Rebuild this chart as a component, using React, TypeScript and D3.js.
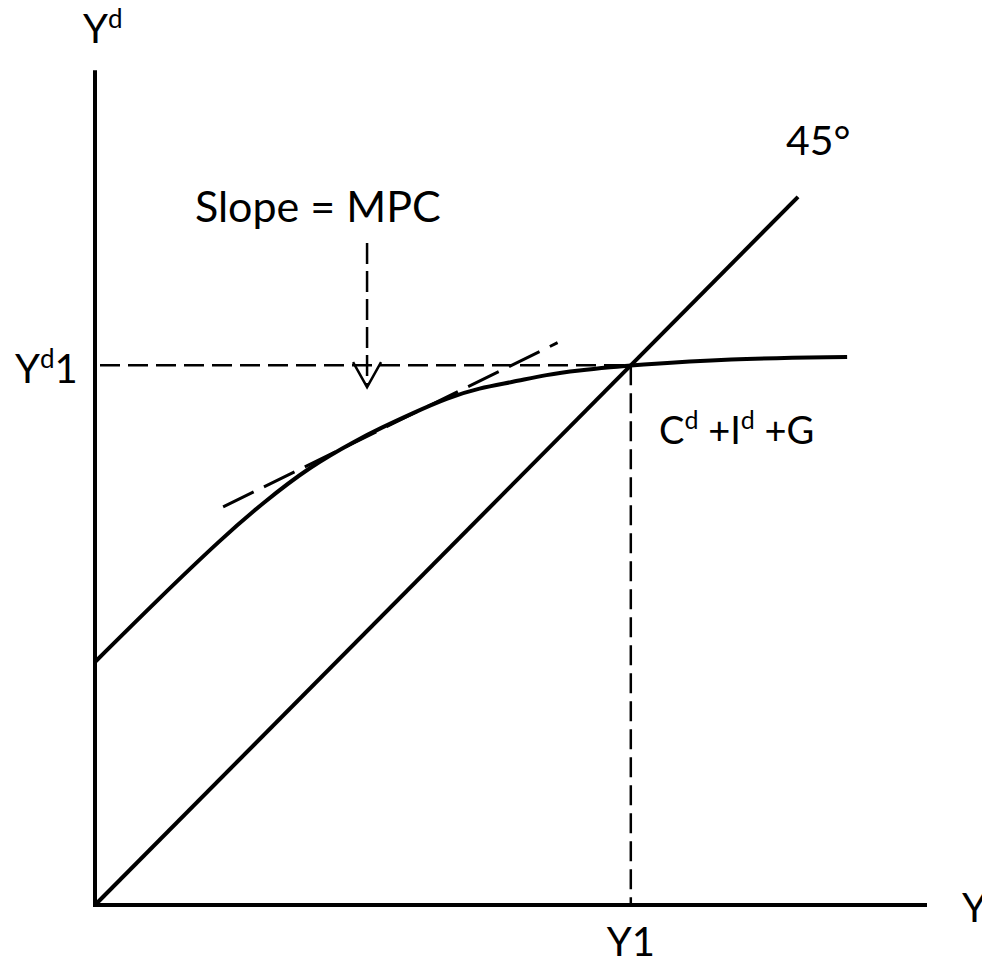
import { scaleLinear, line, curveBasis } from "d3"

// model values (arbitrary units, both axes 0..100)
const xAxisEnd = 100
const yAxisTop = 99.6
const demandX = [0, 7.5, 15.4, 20.2, 25.8, 31.5, 34.3, 38.2, 42.3, 46.2, 50.2, 54.3, 58.2, 62.2, 64.4, 76.0, 90.4]
const demandY = [29.0, 36.4, 43.9, 48.0, 52.3, 55.5, 56.9, 58.7, 60.5, 61.7, 62.4, 63.3, 63.8, 64.2, 64.4, 65.2, 65.4]
const diagonal = [0, 84.5]
const y1 = 64.4
const yd1 = 64.4
const tangentX = [15.4, 55.6]
const tangentY = [47.5, 67.1]
const arrowX = 32.7
const arrowY = [79.0, 61.8]

const width = 982
const height = 959
const font = "Lato, 'Open Sans', sans-serif"

function App() {
    const x = scaleLinear().domain([0, 100]).range([95, 927])
    const y = scaleLinear().domain([0, 100]).range([905, 67])

    const curve = line<number>()
        .x((d) => x(d))
        .y((d, i) => y(demandY[i]))
        .curve(curveBasis)

    const tip = { x: x(arrowX), y: y(arrowY[1]) }

    return (
        <svg
            width={width}
            height={height}
            style={{ position: "absolute", left: 0, top: 0, background: "#fff" }}
            fontFamily={font}
        >
            {/* axes */}
            <line x1={x(0)} y1={y(0)} x2={x(0)} y2={y(yAxisTop)} stroke="#000" strokeWidth={4} />
            <line x1={x(0) - 2} y1={y(0)} x2={x(xAxisEnd)} y2={y(0)} stroke="#000" strokeWidth={4} />

            {/* guide lines */}
            <line x1={x(0) + 5} y1={y(yd1)} x2={x(y1)} y2={y(yd1)}
                stroke="#000" strokeWidth={2.5} strokeDasharray="20 8" />
            <line x1={x(y1)} y1={y(yd1)} x2={x(y1)} y2={y(0)}
                stroke="#000" strokeWidth={2.5} strokeDasharray="20 8" />

            {/* 45 degree line */}
            <line x1={x(diagonal[0])} y1={y(diagonal[0])} x2={x(diagonal[1])} y2={y(diagonal[1])}
                stroke="#000" strokeWidth={4} />

            {/* aggregate demand */}
            <path d={curve(demandX) ?? ""} fill="none" stroke="#000" strokeWidth={4} />

            {/* tangent */}
            <line x1={x(tangentX[0])} y1={y(tangentY[0])} x2={x(tangentX[1])} y2={y(tangentY[1])}
                stroke="#000" strokeWidth={3} strokeDasharray="34 11.5" />

            {/* arrow */}
            <line x1={tip.x} y1={y(arrowY[0])} x2={tip.x} y2={tip.y - 2}
                stroke="#000" strokeWidth={2.5} strokeDasharray="21 7" />
            <polyline
                points={`${tip.x - 14},${tip.y - 25} ${tip.x},${tip.y} ${tip.x + 14},${tip.y - 25}`}
                fill="none" stroke="#000" strokeWidth={2.5} />

            {/* labels */}
            <text x={83} y={43} fontSize={40}>
                Y<tspan fontSize={26} dy={-15}>d</tspan>
            </text>
            <text x={15} y={383} fontSize={40}>
                Y<tspan fontSize={26} dy={-15}>d</tspan><tspan dy={15}>1</tspan>
            </text>
            <text x={195} y={222} fontSize={43}>Slope = MPC</text>
            <text x={786} y={155} fontSize={41}>45°</text>
            <text x={659} y={444} fontSize={38}>
                C<tspan fontSize={25} dy={-15}>d</tspan>
                <tspan dy={15}> +I</tspan><tspan fontSize={25} dy={-15}>d</tspan>
                <tspan dy={15}> +G</tspan>
            </text>
            <text x={x(y1)} y={956} fontSize={40} textAnchor="middle">Y1</text>
            <text x={962} y={922} fontSize={40}>Y</text>
        </svg>
    )
}

export default App
